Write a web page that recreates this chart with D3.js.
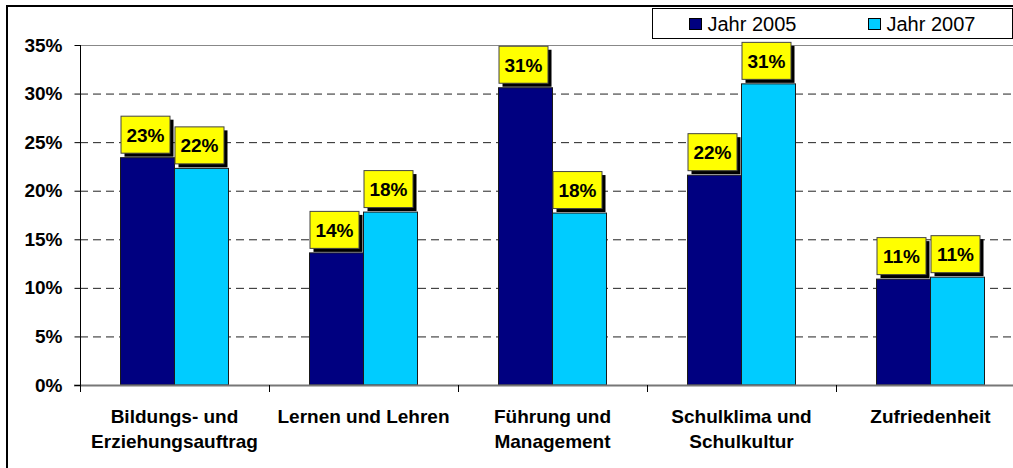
<!DOCTYPE html>
<html>
<head>
<meta charset="utf-8">
<script src="https://cdn.jsdelivr.net/npm/d3@7"></script>
<style>
  body { margin: 0; background: #fff; }
  svg { display: block; font-family: "Liberation Sans", Arial, sans-serif; }
</style>
</head>
<body>
<svg id="chart"></svg>
<script>
const categories = [
  ['Bildungs- und', 'Erziehungsauftrag'],
  ['Lernen und Lehren'],
  ['Führung und', 'Management'],
  ['Schulklima und', 'Schulkultur'],
  ['Zufriedenheit']
];
const seriesNames = ['Jahr 2005', 'Jahr 2007'];
const values2005 = [0.234, 0.136, 0.306, 0.216, 0.109];
const values2007 = [0.223, 0.178, 0.177, 0.310, 0.111];
const yTicks = [0, 0.05, 0.10, 0.15, 0.20, 0.25, 0.30, 0.35];

const width = 1013, height = 468;
const colors = ['#000080', '#00ccff'];

const svg = d3.select('#chart')
  .attr('width', width)
  .attr('height', height);

// outer frame (cropped at right and bottom)
svg.append('path')
  .attr('d', `M7,${height + 2} V6 H${width + 2}`)
  .attr('fill', 'none')
  .attr('stroke', '#000')
  .attr('stroke-width', 2);

const keys = categories.map((c, i) => i);

const x = d3.scaleBand()
  .domain(keys)
  .range([80, 1025])
  .paddingInner(0.4286)
  .paddingOuter(0.2143);

const xSub = d3.scaleBand()
  .domain([0, 1])
  .range([0, x.bandwidth()]);

const y = d3.scaleLinear()
  .domain([0, 0.35])
  .range([385, 45]);

// gridlines
svg.append('g')
  .selectAll('line')
  .data(yTicks.filter(t => t > 0 && t < 0.35))
  .enter()
  .append('line')
    .attr('x1', 80).attr('x2', width)
    .attr('y1', d => y(d) + 0.5).attr('y2', d => y(d) + 0.5)
    .attr('stroke', '#222')
    .attr('stroke-dasharray', '8,5');

// plot top border
svg.append('line')
  .attr('x1', 80).attr('x2', width)
  .attr('y1', y(0.35) + 0.5).attr('y2', y(0.35) + 0.5)
  .attr('stroke', '#888');

// bars
const data = [];
keys.forEach(i => {
  data.push({ cat: i, s: 0, v: values2005[i] });
  data.push({ cat: i, s: 1, v: values2007[i] });
});

svg.append('g')
  .selectAll('rect')
  .data(data)
  .enter()
  .append('rect')
    .attr('x', d => x(d.cat) + xSub(d.s))
    .attr('y', d => y(d.v))
    .attr('width', xSub.bandwidth())
    .attr('height', d => y(0) - y(d.v))
    .attr('fill', d => colors[d.s])
    .attr('stroke', '#1a1a1a')
    .attr('stroke-width', 1);

// baseline
svg.append('line')
  .attr('x1', 74).attr('x2', width)
  .attr('y1', y(0) + 0.5).attr('y2', y(0) + 0.5)
  .attr('stroke', '#777')
  .attr('stroke-width', 2);

// y axis
const yAxis = svg.append('g')
  .attr('transform', 'translate(80.5,0)')
  .call(d3.axisLeft(y).tickValues(yTicks).tickSize(6).tickPadding(12)
    .tickFormat(d3.format('.0%')));
yAxis.select('.domain').attr('d', `M0,${y(0.35)} V${y(0) + 6}`).attr('stroke', '#000');
yAxis.selectAll('.tick line').attr('stroke', '#000');
yAxis.selectAll('text')
  .attr('font-family', '"Liberation Sans", Arial, sans-serif')
  .attr('font-size', 19)
  .attr('font-weight', 'bold')
  .attr('fill', '#000');

// category ticks
svg.append('g')
  .selectAll('line')
  .data(keys.concat([keys.length]))
  .enter()
  .append('line')
    .attr('x1', d => Math.round(80 + d * x.step()) + 0.5)
    .attr('x2', d => Math.round(80 + d * x.step()) + 0.5)
    .attr('y1', y(0)).attr('y2', y(0) + 7)
    .attr('stroke', '#000');

// category labels
const catLabels = svg.append('g')
  .selectAll('text')
  .data(categories)
  .enter()
  .append('text')
    .attr('x', (d, i) => x(i) + x.bandwidth() / 2)
    .attr('y', 423)
    .attr('text-anchor', 'middle')
    .attr('font-size', 19)
    .attr('font-weight', 'bold');
catLabels.selectAll('tspan')
  .data(d => d)
  .enter()
  .append('tspan')
    .attr('x', function() { return d3.select(this.parentNode).attr('x'); })
    .attr('dy', (d, i) => i === 0 ? 0 : 25)
    .text(d => d);

// value labels
const boxW = 49, boxH = 37, shadow = 4;
const labels = svg.append('g')
  .selectAll('g')
  .data(data)
  .enter()
  .append('g')
    .attr('transform', d =>
      `translate(${x(d.cat) + xSub(d.s)},${y(d.v) - shadow - 1 - boxH})`);
labels.append('rect')
  .attr('x', shadow).attr('y', shadow)
  .attr('width', boxW).attr('height', boxH)
  .attr('fill', '#000');
labels.append('rect')
  .attr('x', 0.5).attr('y', 0.5)
  .attr('width', boxW).attr('height', boxH)
  .attr('fill', '#ffff00')
  .attr('stroke', '#444');
labels.append('text')
  .attr('x', boxW / 2 + 0.5)
  .attr('y', boxH / 2 + 7.5)
  .attr('text-anchor', 'middle')
  .attr('font-size', 19)
  .attr('font-weight', 'bold')
  .text(d => d3.format('.0%')(d.v));

// legend
const legend = svg.append('g').attr('transform', 'translate(652.5,8.5)');
legend.append('rect')
  .attr('width', 360).attr('height', 30)
  .attr('fill', '#fff')
  .attr('stroke', '#000');
const items = legend.selectAll('g.item')
  .data(seriesNames)
  .enter()
  .append('g')
    .attr('class', 'item')
    .attr('transform', (d, i) => `translate(${i === 0 ? 37 : 216},10)`);
items.append('rect')
  .attr('width', 12).attr('height', 11)
  .attr('fill', (d, i) => colors[i])
  .attr('stroke', '#000');
items.append('text')
  .attr('x', 18).attr('y', 12.5)
  .attr('font-size', 20)
  .text(d => d);
</script>
</body>
</html>
